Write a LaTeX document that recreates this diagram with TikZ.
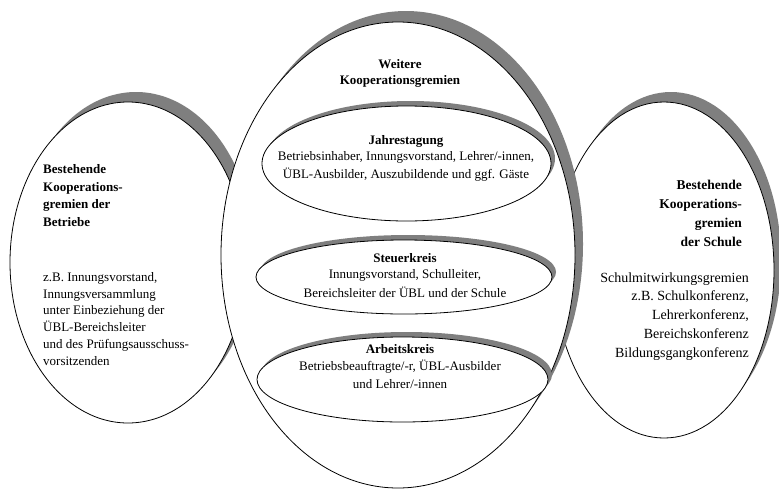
\documentclass[tikz,border=0pt]{standalone}
\usepackage{fontspec}
\setmainfont{Liberation Serif}
\definecolor{shadowgray}{HTML}{7F7F7F}
\begin{document}
\begin{tikzpicture}[x=1pt,y=-1pt,
  shadowfill/.style={fill=shadowgray,draw=none},
  oval/.style={fill=white,draw=black,line width=0.8pt},
  title/.style={inner sep=0pt,anchor=base,font=\fontsize{13}{17.5}\selectfont\bfseries},
  body/.style={inner sep=0pt,anchor=base,font=\fontsize{13}{17.5}\selectfont}]
\useasboundingbox (0,0) rectangle (779,488);

% existing bodies of the companies (left)
\fill[shadowfill] (136,252.5) ellipse [x radius=118, y radius=160.5];
\draw[oval] (128,262.5) ellipse [x radius=118, y radius=160.5];

% existing bodies of the school (right)
\fill[shadowfill] (671,260) ellipse [x radius=110, y radius=168];
\draw[oval] (664,270) ellipse [x radius=110, y radius=168];

% further cooperation bodies (centre)
\fill[shadowfill] (406,244) ellipse [x radius=177, y radius=233];
\draw[oval] (398,255) ellipse [x radius=177, y radius=233];

% inner bodies
\fill[shadowfill] (410.5,158.5) ellipse [x radius=144.5, y radius=57.5];
\draw[oval] (406.5,163.5) ellipse [x radius=144.5, y radius=57.5];
\fill[shadowfill] (408,272) ellipse [x radius=148, y radius=37];
\draw[oval] (404,277) ellipse [x radius=148, y radius=37];
\fill[shadowfill] (406.5,374.5) ellipse [x radius=145.5, y radius=42.5];
\draw[oval] (402.5,379.5) ellipse [x radius=145.5, y radius=42.5];

% texts (multi-line nodes are placed by the baseline of their last line)
\node[title,align=left,anchor=base west] (lt) at (43,226) {Bestehende\\Kooperations-\\gremien der\\Betriebe};
\node[body,align=left,anchor=base west,font=\fontsize{13}{16.7}\selectfont] (lb) at (43,365) {z.B. Innungsvorstand,\\Innungsversammlung\\unter Einbeziehung der\\ÜBL-Bereichsleiter\\und des Prüfungsausschuss-\\vorsitzenden};

\node[title,align=center,font=\fontsize{13}{16}\selectfont\bfseries] (ct) at (400,84) {Weitere\\Kooperationsgremien};
\node[title] (jt) at (406,144) {Jahrestagung};
\node[body,align=center] (jb) at (406,178) {Betriebsinhaber, Innungsvorstand, Lehrer/-innen,\\ÜBL-Ausbilder, Auszubildende und ggf. Gäste};
\node[title] (st) at (405,262) {Steuerkreis};
\node[body,align=center,font=\fontsize{13}{19}\selectfont] (sb) at (405,297) {Innungsvorstand, Schulleiter,\\Bereichsleiter der ÜBL und der Schule};
\node[title] (at) at (400,353) {Arbeitskreis};
\node[body,align=center] (ab) at (400,388) {Betriebsbeauftragte/-r, ÜBL-Ausbilder\\und Lehrer/-innen};

\node[title,align=right,anchor=base east,font=\fontsize{13.5}{19}\selectfont\bfseries] (rt) at (742,246) {Bestehende\\Kooperations-\\gremien\\der Schule};
\node[body,align=right,anchor=base east,font=\fontsize{14}{18.7}\selectfont] (rb) at (749,357) {Schulmitwirkungsgremien\\z.B. Schulkonferenz,\\Lehrerkonferenz,\\Bereichskonferenz\\Bildungsgangkonferenz};
\end{tikzpicture}
\end{document}
